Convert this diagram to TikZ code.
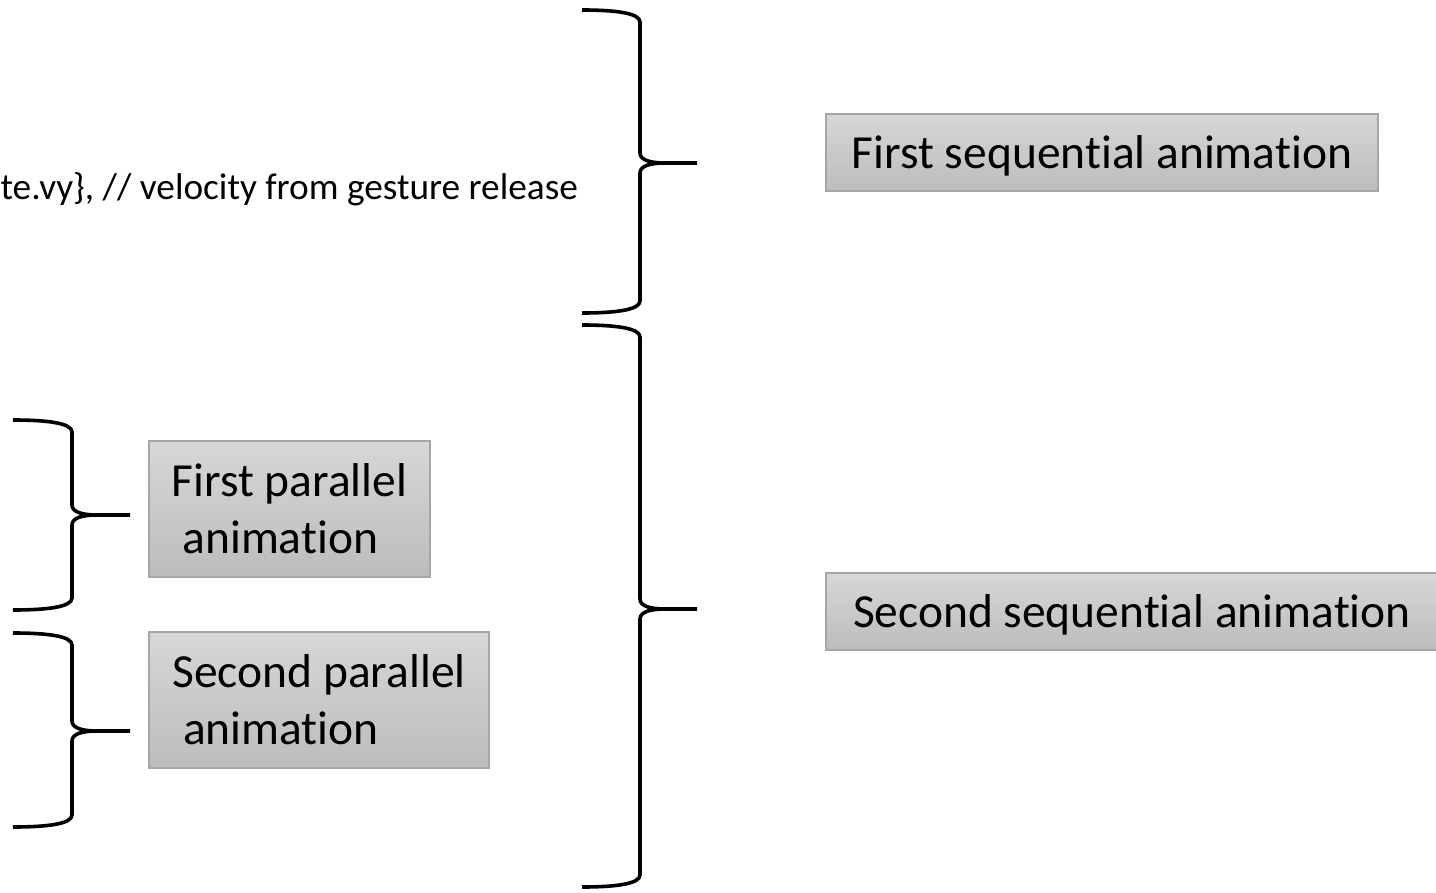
\documentclass[tikz,border=0pt]{standalone}
\usepackage{fontspec}
\setmainfont{Carlito}[Ligatures=NoCommon]
\definecolor{boxtop}{RGB}{215,215,215}
\definecolor{boxbot}{RGB}{188,188,188}
\definecolor{boxborder}{RGB}{166,166,166}
\newcommand\RBrace[6]{%
  \draw[brc] (#1,#4) .. controls ({#2-25},#4) and (#2,{#4+3}) .. (#2,{#4+12})
    -- (#2,{#5-10}) .. controls (#2,{#5-3}) and ({#2+10},#5) .. ({#2+25},#5) -- (#3,#5)
    ({#2+25},#5) .. controls ({#2+10},#5) and (#2,{#5+3}) .. (#2,{#5+10})
    -- (#2,{#6-12}) .. controls (#2,{#6-3}) and ({#2-25},#6) .. (#1,#6);}
\newcommand\LowerText[1]{\raisebox{-3pt}[\height][\depth]{#1}}
\begin{document}
\begin{tikzpicture}[x=1pt,y=-1pt,
  brc/.style={line width=3.6pt, line cap=butt, line join=round},
  gbox/.style={draw=boxborder, line width=1.8pt, top color=boxtop, bottom color=boxbot,
    inner sep=0pt, align=left, font=\fontsize{47.5}{57}\selectfont}]
\useasboundingbox (0,0) rectangle (1436,893);
% boxes
\node[gbox, minimum width=552pt, minimum height=77pt] (fs) at (1102,152.5) {\LowerText{First sequential animation}};
\node[gbox, minimum width=612pt, minimum height=77pt] (ss) at (1132,611.5) {\LowerText{Second sequential animation}};
\node[gbox, minimum width=281pt, minimum height=136pt] (fp) at (289.5,509) {First parallel\\\hspace*{0.226em}animation};
\node[gbox, minimum width=340pt, minimum height=136pt] (sp) at (319,700) {Second parallel\\\hspace*{0.226em}animation};
% code fragment
\node[anchor=base east, inner sep=0pt, font=\fontsize{37.3}{44}\selectfont] (code) at (578,200) {te.vy\}, // velocity from gesture release};
% braces
\RBrace{582}{640}{697}{10}{163}{313}
\RBrace{582}{640}{697}{325}{609}{887}
\RBrace{13}{72}{130}{420}{515}{610}
\RBrace{13}{72}{130}{633}{731}{827}
\end{tikzpicture}
\end{document}
